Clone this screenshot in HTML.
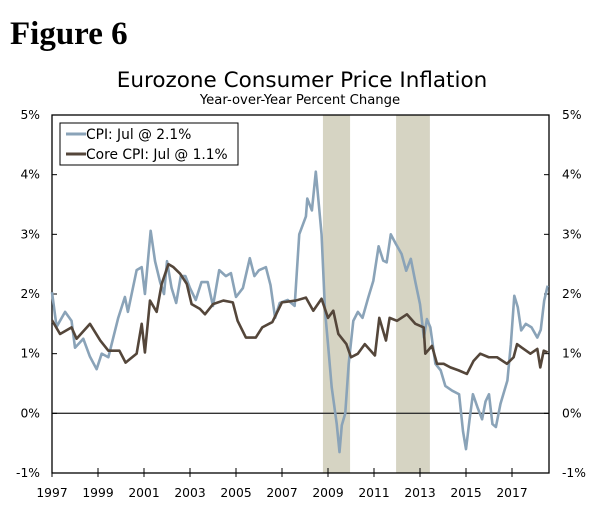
<!DOCTYPE html>
<html><head><meta charset="utf-8"><style>
body{margin:0;background:#fff;width:600px;height:507px;overflow:hidden}
svg{display:block}
.t{font-family:"DejaVu Sans","Liberation Sans",sans-serif;fill:#000}
</style></head><body>
<svg id="c" width="600" height="507">
<text x="10" y="44" font-family="Liberation Serif,serif" font-weight="bold" font-size="33">Figure 6</text>
<text class="t" x="302" y="87" text-anchor="middle" font-size="21.5">Eurozone Consumer Price Inflation</text>
<text class="t" x="300" y="104" text-anchor="middle" font-size="13.2">Year-over-Year Percent Change</text>
<g id="shade"></g><g id="axes"></g><g id="lines"></g>
<g>
<rect x="60" y="123" width="178" height="42" fill="#fff" stroke="#000" stroke-width="1"/>
<line x1="66" y1="134" x2="86" y2="134" stroke="#8aa3b8" stroke-width="3"/>
<text class="t" x="86" y="139" font-size="13.8">CPI: Jul @ 2.1%</text>
<line x1="66" y1="154" x2="86" y2="154" stroke="#54463a" stroke-width="3"/>
<text class="t" x="86" y="159" font-size="13.8">Core CPI: Jul @ 1.1%</text>
</g>
</svg>
<script>
const yTicks=[-1,0,1,2,3,4,5];
const xTickYears=[1997,1999,2001,2003,2005,2007,2009,2011,2013,2015,2017];
const recessions=[[2008.78,2009.96],[2011.96,2013.43]];
const cpiYears=[1997.0,1997.2,1997.57,1997.85,1998.0,1998.36,1998.65,1998.94,1999.16,1999.45,1999.88,2000.17,2000.3,2000.68,2000.9,2001.04,2001.29,2001.48,2001.7,2001.87,2002.0,2002.2,2002.4,2002.6,2002.8,2003.0,2003.25,2003.5,2003.77,2004.0,2004.27,2004.56,2004.78,2005.0,2005.3,2005.6,2005.8,2006.0,2006.3,2006.5,2006.7,2006.9,2007.25,2007.55,2007.75,2008.04,2008.1,2008.3,2008.47,2008.72,2008.87,2009.0,2009.16,2009.38,2009.5,2009.6,2009.75,2009.9,2010.1,2010.3,2010.5,2010.75,2010.97,2011.2,2011.4,2011.55,2011.73,2011.95,2012.2,2012.4,2012.6,2012.8,2013.0,2013.17,2013.3,2013.45,2013.67,2013.9,2014.1,2014.4,2014.7,2014.87,2015.0,2015.15,2015.3,2015.5,2015.7,2015.85,2016.0,2016.15,2016.3,2016.5,2016.8,2016.95,2017.1,2017.25,2017.4,2017.6,2017.85,2018.1,2018.25,2018.4,2018.55];
const cpiValues=[2.03,1.45,1.7,1.55,1.1,1.25,0.95,0.74,1.0,0.94,1.6,1.95,1.7,2.4,2.45,2.0,3.06,2.55,2.2,2.0,2.55,2.1,1.85,2.3,2.3,2.1,1.9,2.2,2.2,1.8,2.4,2.3,2.35,1.95,2.1,2.6,2.3,2.4,2.45,2.15,1.6,1.85,1.9,1.8,3.0,3.3,3.6,3.4,4.05,3.0,1.72,1.16,0.44,-0.18,-0.65,-0.2,0.0,0.83,1.55,1.7,1.6,1.94,2.22,2.8,2.56,2.53,3.0,2.84,2.67,2.39,2.59,2.2,1.83,1.27,1.58,1.44,0.83,0.72,0.46,0.38,0.32,-0.3,-0.6,-0.12,0.32,0.1,-0.1,0.2,0.32,-0.18,-0.23,0.16,0.55,1.16,1.97,1.78,1.39,1.5,1.44,1.27,1.4,1.89,2.14];
const coreYears=[1997.0,1997.35,1997.85,1998.07,1998.65,1999.1,1999.45,1999.93,2000.2,2000.68,2000.9,2001.04,2001.26,2001.55,2001.77,2002.06,2002.28,2002.57,2002.86,2003.07,2003.43,2003.65,2004.0,2004.45,2004.86,2005.07,2005.43,2005.86,2006.14,2006.58,2007.0,2007.6,2008.04,2008.36,2008.72,2009.0,2009.23,2009.45,2009.8,2010.0,2010.3,2010.6,2011.04,2011.23,2011.52,2011.68,2012.0,2012.43,2012.8,2013.16,2013.23,2013.52,2013.74,2014.03,2014.32,2014.68,2015.04,2015.33,2015.62,2015.99,2016.35,2016.78,2017.07,2017.22,2017.43,2017.8,2018.1,2018.23,2018.38,2018.55];
const coreValues=[1.56,1.33,1.44,1.25,1.5,1.22,1.05,1.05,0.85,1.0,1.5,1.02,1.89,1.7,2.17,2.5,2.45,2.34,2.17,1.83,1.75,1.66,1.83,1.89,1.86,1.55,1.27,1.27,1.44,1.53,1.86,1.89,1.94,1.72,1.92,1.6,1.72,1.33,1.16,0.94,1.0,1.16,0.97,1.6,1.22,1.6,1.55,1.66,1.5,1.44,1.0,1.13,0.83,0.83,0.77,0.72,0.66,0.88,1.0,0.94,0.94,0.83,0.94,1.16,1.1,1.0,1.08,0.77,1.05,1.02];
const L=52,R=549,T=115,B=473;
const X=y=>L+(y-1997)*23;
const Y=v=>T+(5-v)*(B-T)/6;
const NS="http://www.w3.org/2000/svg";
function mk(tag,attrs,parent){const e=document.createElementNS(NS,tag);for(const k in attrs)e.setAttribute(k,attrs[k]);document.getElementById(parent).appendChild(e);return e;}
recessions.forEach(r=>{const e=mk('rect',{x:X(r[0]),y:T,width:X(r[1])-X(r[0]),height:B-T,fill:'#d6d4c3'},'shade');

});
let e=mk('rect',{x:L,y:T,width:R-L,height:B-T,fill:'none',stroke:'#000','stroke-width':1.3},'axes');


e=mk('line',{x1:L,x2:R,y1:Y(0),y2:Y(0),stroke:'#333','stroke-width':1.3},'axes');


yTicks.forEach(v=>{
mk('line',{x1:L,x2:L+5,y1:Y(v),y2:Y(v),stroke:'#000'},'axes');
mk('line',{x1:R-5,x2:R,y1:Y(v),y2:Y(v),stroke:'#000'},'axes');
let t=mk('text',{x:40,y:Y(v)+4,'text-anchor':'end','font-size':12.3,class:'t'},'axes');t.textContent=v+'%';


t=mk('text',{x:562,y:Y(v)+4,'font-size':12.3,class:'t'},'axes');t.textContent=v+'%';

});
xTickYears.forEach(y=>{
mk('line',{x1:X(y),x2:X(y),y1:B-5,y2:B+4,stroke:'#000'},'axes');
const t=mk('text',{x:X(y),y:497,'text-anchor':'middle','font-size':12.3,class:'t'},'axes');t.textContent=y;

});
function line(xs,vs,color,name){const p=mk('polyline',{points:xs.map((y,i)=>X(y)+','+Y(vs[i])).join(' '),fill:'none',stroke:color,'stroke-width':2.6,'stroke-linejoin':'round'},'lines');

}
line(cpiYears,cpiValues,'#8aa3b8','cpi-line');
line(coreYears,coreValues,'#54463a','core-cpi-line');
</script>
</body></html>
